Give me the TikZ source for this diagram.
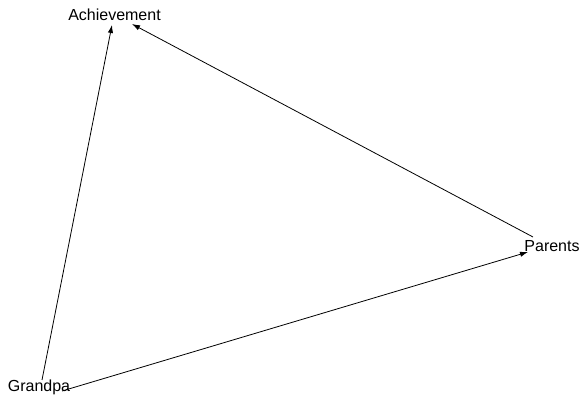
\documentclass[tikz,border=0pt]{standalone}
\usepackage{fontspec}
\setmainfont{Liberation Sans}
\usetikzlibrary{arrows.meta}

\begin{document}
\begin{tikzpicture}[
  x=0.75pt, y=0.75pt,
  >={Latex[length=6pt, width=4pt]},
  line width=0.6pt,
  lbl/.style={font=\fontsize{12}{14}\selectfont, inner sep=0pt, anchor=base}
]
\useasboundingbox (0,0) rectangle (582,398);

% ── Labels (plain text, no boxes) ──
\node[lbl] (achievement) at (114.5,377) {Achievement};
\node[lbl] (parents) at (552,146) {Parents};
\node[lbl] (grandpa) at (39,6) {Grandpa};

% ── Edge ends: the edges run right up to the text ──
\coordinate (grandpa-top) at (42,18);
\coordinate (grandpa-right) at (62,7);
\coordinate (parents-top) at (533,161);
\coordinate (parents-left) at (528,146);
\coordinate (achievement-a) at (112,373);
\coordinate (achievement-b) at (132,374);

% ── Edges ──
\draw[->] (grandpa-top) -- (achievement-a);
\draw[->] (grandpa-right) -- (parents-left);
\draw[->] (parents-top) -- (achievement-b);

\end{tikzpicture}
\end{document}
